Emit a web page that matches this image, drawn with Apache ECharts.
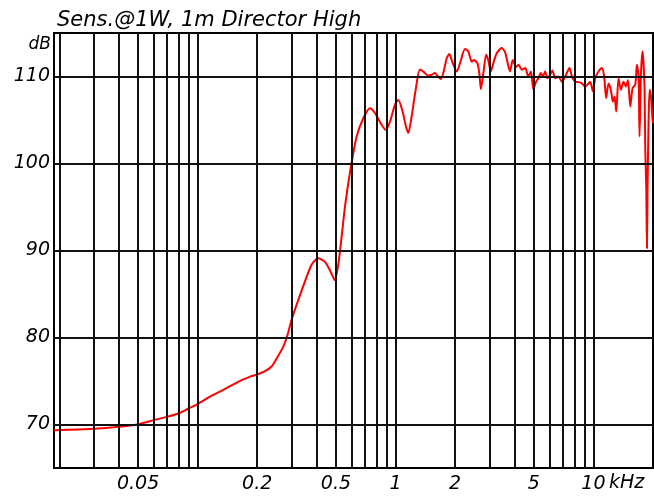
<!DOCTYPE html>
<html>
<head>
<meta charset="utf-8">
<script src="https://cdn.jsdelivr.net/npm/echarts@6/dist/echarts.min.js"></script>
<style>
  html, body { margin: 0; padding: 0; background: #fff; }
  #chart { width: 654px; height: 498px; }
</style>
</head>
<body>
<div id="chart"></div>
<script>
// Frequency response, sound pressure at 1 W / 1 m
const freqKHz = [
  0.0188, 0.020, 0.030, 0.040, 0.050, 0.060, 0.070, 0.080, 0.090, 0.100,
  0.115, 0.134, 0.157, 0.170, 0.183, 0.202, 0.218, 0.237, 0.251, 0.269,
  0.282, 0.300, 0.341, 0.376, 0.406, 0.440, 0.470, 0.493, 0.513, 0.533,
  0.555, 0.577, 0.600, 0.636, 0.687, 0.742, 0.787, 0.851, 0.891, 0.937, 0.993,
  1.032, 1.080, 1.129, 1.160, 1.206, 1.264, 1.329, 1.392, 1.464, 1.523,
  1.582, 1.626, 1.691, 1.743, 1.814, 1.870, 1.945, 2.038, 2.118, 2.245,
  2.330, 2.430, 2.490, 2.590, 2.650, 2.700, 2.780, 2.870, 2.940, 3.030,
  3.120, 3.250, 3.440, 3.580, 3.720, 3.790, 3.910, 4.070, 4.180, 4.350,
  4.520, 4.690, 4.830, 4.970, 5.130, 5.270, 5.420, 5.550, 5.700, 5.850,
  6.040, 6.210, 6.410, 6.660, 6.930, 7.200, 7.570, 7.780, 8.090, 8.400,
  8.740, 9.080, 9.330, 9.630, 9.940, 10.21, 10.61, 11.03, 11.33, 11.60,
  11.92, 12.25, 12.54, 12.78, 13.04, 13.39, 13.77, 14.19, 14.60, 14.94,
  15.35, 15.76, 16.27, 16.59, 16.91, 17.10, 17.38, 17.71, 17.92, 18.13,
  18.28, 18.49, 18.64, 18.77, 18.99, 19.22, 19.53, 19.83, 20.0
];
const splDb = [
  69.34, 69.36, 69.50, 69.73, 70.03, 70.50, 70.88, 71.27, 71.84, 72.34,
  73.18, 73.95, 74.79, 75.18, 75.48, 75.79, 76.10, 76.70, 77.60, 78.80,
  80.00, 82.20, 85.84, 88.33, 89.10, 88.70, 87.56, 86.60, 88.30, 91.40,
  95.00, 97.70, 100.10, 103.10, 105.20, 106.36, 105.80, 104.44, 103.87, 104.80, 106.74,
  107.30, 106.17, 104.25, 103.50, 105.40, 108.47, 110.80, 110.50, 110.10, 110.20,
  110.40, 110.08, 109.70, 110.40, 112.10, 112.58, 111.54, 110.58, 111.54, 113.15,
  112.90, 111.70, 111.90, 111.54, 110.40, 108.55, 110.40, 112.50, 111.90, 110.58,
  111.54, 112.70, 113.27, 112.76, 111.15, 110.58, 111.90, 111.10, 111.35, 110.77,
  110.97, 110.00, 110.58, 108.55, 109.40, 109.80, 110.40, 110.00, 110.58, 109.80,
  110.20, 110.70, 109.80, 110.00, 109.40, 110.00, 110.97, 110.00, 109.40, 109.35,
  109.20, 108.85, 109.05, 109.40, 108.30, 109.80, 110.58, 110.97, 110.00, 107.50,
  109.20, 108.47, 107.10, 107.70, 105.97, 109.80, 108.47, 109.40, 108.85, 109.60,
  106.55, 108.66, 109.05, 111.35, 110.00, 103.10, 110.20, 112.90, 111.54, 108.50,
  101.60, 97.30, 90.25, 96.96, 104.64, 108.47, 107.70, 105.40, 104.64
];

// Grid positions (kHz) and dB levels, labelled frequencies
const gridFreqs = [
  0.02, 0.03, 0.04, 0.05, 0.06, 0.07, 0.08, 0.09,
  0.1, 0.2, 0.3, 0.4, 0.5, 0.6, 0.7, 0.8, 0.9,
  1, 2, 3, 4, 5, 6, 7, 8, 9, 10
];
const gridLevels = [70, 80, 90, 100, 110];
const freqLabels = [0.05, 0.2, 0.5, 1, 2, 5, 10];

const FONT = 'DejaVu Sans';
const chart = echarts.init(document.getElementById('chart'), null, { renderer: 'canvas' });

const curve = freqKHz.map((f, i) => [f, splDb[i]]);
const gridMarks = gridFreqs.map(f => ({ xAxis: f }))
  .concat(gridLevels.map(v => ({ yAxis: v })));

chart.setOption({
  animation: false,
  backgroundColor: '#ffffff',
  title: {
    text: 'Sens.@1W, 1m Director High',
    left: 52,
    top: 5,
    textStyle: { fontFamily: FONT, fontStyle: 'italic', fontWeight: 'normal', fontSize: 21, color: '#000' }
  },
  grid: {
    left: 54, right: 1, top: 33, bottom: 30,
    show: true, borderColor: '#000', borderWidth: 2, backgroundColor: 'transparent'
  },
  xAxis: {
    type: 'log',
    logBase: 10,
    min: 0.0188,
    max: 20,
    axisLine: { show: false },
    axisTick: { show: false },
    splitLine: { show: false },
    minorSplitLine: { show: false },
    axisLabel: {
      customValues: freqLabels,
      margin: 7,
      fontFamily: FONT, fontStyle: 'italic', fontSize: 19, color: '#000',
      formatter: v => String(+v)
    }
  },
  yAxis: {
    type: 'value',
    min: 65,
    max: 115,
    interval: 5,
    axisLine: { show: false },
    axisTick: { show: false },
    splitLine: { show: false },
    axisLabel: {
      margin: 4,
      fontFamily: FONT, fontStyle: 'italic', fontSize: 19, color: '#000',
      formatter: v => (v % 10 === 0 ? String(v) : '')
    }
  },
  graphic: [
    {
      type: 'text', right: 603, top: 36,
      style: { text: 'dB', fontFamily: FONT, fontStyle: 'italic', fontSize: 17, fill: '#000', align: 'right' }
    },
    {
      type: 'text', left: 609, top: 474,
      style: { text: 'kHz', fontFamily: FONT, fontStyle: 'italic', fontSize: 19, fill: '#000' }
    }
  ],
  series: [
    {
      name: 'grid',
      type: 'line',
      data: [],
      z: 1,
      silent: true,
      markLine: {
        silent: true,
        symbol: 'none',
        label: { show: false },
        lineStyle: { color: '#111', width: 2, type: 'solid' },
        emphasis: { disabled: true },
        data: gridMarks
      }
    },
    {
      name: 'SPL',
      type: 'line',
      z: 3,
      data: curve,
      showSymbol: false,
      smooth: 0.25,
      lineStyle: { color: '#ff0000', width: 2 },
      itemStyle: { color: '#ff0000' }
    }
  ]
});
</script>
</body>
</html>
